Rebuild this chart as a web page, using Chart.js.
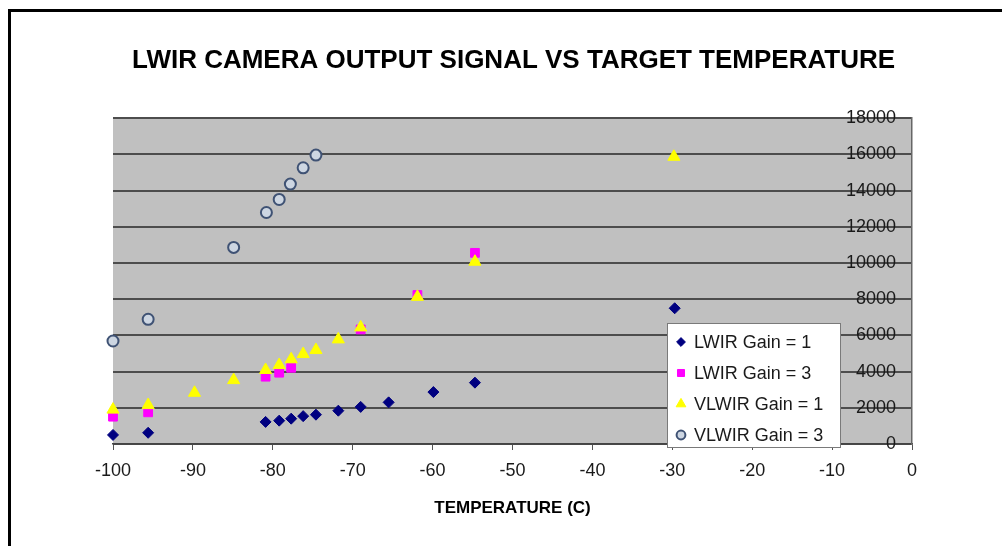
<!DOCTYPE html>
<html>
<head>
<meta charset="utf-8">
<script src="https://cdn.jsdelivr.net/npm/chart.js@4/dist/chart.umd.min.js"></script>
<style>
  html, body { margin: 0; padding: 0; background: #ffffff; }
  canvas { display: block; }
</style>
</head>
<body>
<canvas id="c" width="1002" height="546"></canvas>
<script>
// ---- data ----
const titleText = 'LWIR CAMERA OUTPUT SIGNAL VS TARGET TEMPERATURE';
const xTitle = 'TEMPERATURE (C)';
const seriesNames = ['LWIR Gain = 1', 'LWIR Gain = 3', 'VLWIR Gain = 1', 'VLWIR Gain = 3'];

const lwir1Temp = [-100, -95.6, -80.9, -79.2, -77.7, -76.2, -74.6, -71.8, -69, -65.5, -59.9, -54.7, -29.7];
const lwir1Vals = [500, 620, 1220, 1290, 1400, 1540, 1620, 1840, 2050, 2300, 2870, 3390, 7500];

const lwir3Temp = [-100, -95.6, -80.9, -79.2, -77.7, -69, -61.9, -54.7];
const lwir3Vals = [1510, 1750, 3720, 3940, 4210, 6330, 8230, 10560];

const vlwir1Temp = [-100, -95.6, -89.8, -84.9, -80.9, -79.2, -77.7, -76.2, -74.6, -71.8, -69, -61.9, -54.7, -29.8];
const vlwir1Vals = [1900, 2150, 2830, 3530, 4090, 4360, 4680, 4970, 5190, 5780, 6440, 8130, 10070, 15870];

const vlwir3Temp = [-100, -95.6, -84.9, -80.8, -79.2, -77.8, -76.2, -74.6];
const vlwir3Vals = [5690, 6890, 10860, 12790, 13510, 14360, 15260, 15960];

const xMin = -100, xMax = 0, xStep = 10;
const yMin = 0, yMax = 18000, yStep = 2000;

function pts(xs, ys) { return xs.map((x, i) => ({x: x, y: ys[i]})); }

const FONT = "'Liberation Sans', Arial, sans-serif";

// marker styles
const markerStyles = [
  {pointStyle: 'rectRot', radius: 5.5, bg: '#000080', border: '#000080', bw: 1},
  {pointStyle: 'rect', radius: 6.2, bg: '#ff00ff', border: '#ff00ff', bw: 1},
  {pointStyle: 'triangle', radius: 7, bg: '#ffff00', border: '#ffff00', bw: 1},
  {pointStyle: 'circle', radius: 5.5, bg: '#cdd6e2', border: '#3f5274', bw: 2}
];
const drawOrder = [3, 2, 1, 4];

const dataSets = [pts(lwir1Temp, lwir1Vals), pts(lwir3Temp, lwir3Vals), pts(vlwir1Temp, vlwir1Vals), pts(vlwir3Temp, vlwir3Vals)];

const datasets = dataSets.map((d, i) => ({
  label: seriesNames[i],
  data: d,
  showLine: false,
  clip: false,
  order: drawOrder[i],
  pointStyle: markerStyles[i].pointStyle,
  pointRadius: markerStyles[i].radius,
  pointHoverRadius: markerStyles[i].radius,
  pointBackgroundColor: markerStyles[i].bg,
  pointBorderColor: markerStyles[i].border,
  pointBorderWidth: markerStyles[i].bw
}));

const framePlugin = {
  id: 'frame',
  beforeDraw(chart) {
    const ctx = chart.ctx;
    const a = chart.chartArea;
    ctx.save();
    ctx.fillStyle = '#ffffff';
    ctx.fillRect(0, 0, chart.width, chart.height);
    ctx.fillStyle = '#000000';
    ctx.fillRect(8, 9, chart.width - 8, 3);
    ctx.fillRect(8, 9, 3, chart.height - 9);
    ctx.fillStyle = '#c0c0c0';
    ctx.fillRect(a.left, a.top, a.right - a.left, a.bottom - a.top);
    ctx.restore();
  }
};

function drawMarker(ctx, style, x, y, scale) {
  const r = style.radius * scale;
  ctx.save();
  ctx.fillStyle = style.bg;
  ctx.strokeStyle = style.border;
  ctx.lineWidth = style.bw;
  ctx.beginPath();
  if (style.pointStyle === 'rectRot') {
    ctx.moveTo(x, y - r); ctx.lineTo(x + r, y); ctx.lineTo(x, y + r); ctx.lineTo(x - r, y); ctx.closePath();
  } else if (style.pointStyle === 'rect') {
    const s = r * Math.SQRT1_2;
    ctx.rect(x - s, y - s, 2 * s, 2 * s);
  } else if (style.pointStyle === 'triangle') {
    ctx.moveTo(x, y - r);
    ctx.lineTo(x + r * Math.sin(2 * Math.PI / 3), y - r * Math.cos(2 * Math.PI / 3));
    ctx.lineTo(x + r * Math.sin(4 * Math.PI / 3), y - r * Math.cos(4 * Math.PI / 3));
    ctx.closePath();
  } else {
    ctx.arc(x, y, r, 0, Math.PI * 2);
  }
  ctx.fill();
  ctx.stroke();
  ctx.restore();
}

const legendPlugin = {
  id: 'boxLegend',
  afterDraw(chart) {
    const ctx = chart.ctx;
    const bx = 667, by = 323, bw = 173, bh = 124;
    ctx.save();
    ctx.fillStyle = '#ffffff';
    ctx.fillRect(bx, by, bw, bh);
    ctx.strokeStyle = '#7a7a7a';
    ctx.lineWidth = 1;
    ctx.strokeRect(bx + 0.5, by + 0.5, bw, bh);
    ctx.font = '18px ' + FONT;
    ctx.fillStyle = '#1a1a1a';
    ctx.textBaseline = 'middle';
    ctx.textAlign = 'left';
    chart.data.datasets.forEach((ds, i) => {
      const y = by + 19 + i * 31;
      drawMarker(ctx, markerStyles[i], bx + 14, y, 0.8);
      ctx.fillText(ds.label, bx + 27, y + 1);
    });
    ctx.restore();
  }
};

new Chart(document.getElementById('c'), {
  type: 'scatter',
  data: { datasets: datasets },
  plugins: [framePlugin, legendPlugin],
  options: {
    responsive: false,
    animation: false,
    events: [],
    layout: { padding: { left: 113, right: 88, top: 0, bottom: 22 } },
    plugins: {
      legend: { display: false },
      tooltip: { enabled: false },
      title: {
        display: true,
        text: titleText,
        color: '#000000',
        font: { family: FONT, size: 26, weight: 'bold', lineHeight: 1.2 },
        padding: { top: 45, bottom: 42 }
      }
    },
    scales: {
      x: {
        type: 'linear',
        position: 'bottom',
        min: xMin, max: xMax,
        afterFit(scale) { scale.height = 80; },
        ticks: {
          stepSize: xStep,
          color: '#1a1a1a',
          padding: 10,
          font: { family: FONT, size: 18 },
          maxRotation: 0
        },
        grid: { drawOnChartArea: false, drawTicks: true, tickLength: 6, color: '#555555', lineWidth: 1 },
        border: { display: true, color: '#444444', width: 1.5 },
        title: {
          display: true,
          text: xTitle,
          color: '#000000',
          font: { family: FONT, size: 17, weight: 'bold', lineHeight: 1.2 },
          padding: { top: 4, bottom: 5 }
        }
      },
      y: {
        type: 'linear',
        position: 'right',
        min: yMin, max: yMax,
        afterFit(scale) { scale.width = 2; },
        ticks: {
          stepSize: yStep,
          mirror: true,
          padding: -16,
          color: '#1a1a1a',
          font: { family: FONT, size: 18 },
          callback: (v) => String(v)
        },
        grid: { drawTicks: false, color: '#4d4d4d', lineWidth: 2 },
        border: { display: true, color: '#666666', width: 1.5 }
      }
    }
  }
});
</script>
</body>
</html>
